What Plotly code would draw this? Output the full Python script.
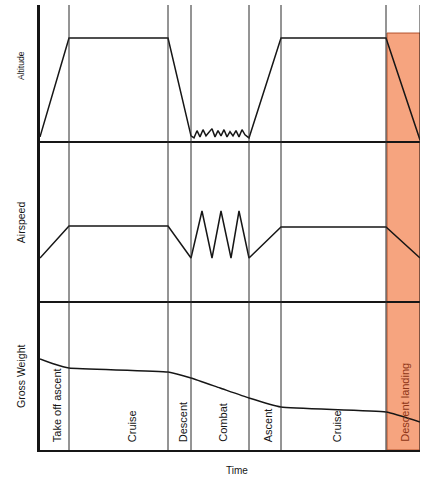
import plotly.graph_objects as go
from plotly.subplots import make_subplots

# Mission profile: time axis in arbitrary units (0 = take-off, 380 = touchdown)
phase_edges = [0, 29, 128, 151, 209, 241, 346, 380]
phase_names = ["Take off ascent", "Cruise", "Descent", "Combat", "Ascent", "Cruise", "Descent landing"]

# Altitude (relative units), including the low-level manoeuvring during combat
alt_t = [0, 29, 128, 151, 154, 157, 160, 163, 166, 169, 172, 175, 178, 181, 184,
         187, 190, 193, 196, 199, 202, 205, 209, 241, 346, 380]
alt_v = [0.04, 1.0, 1.0, 0.05, 0.03, 0.10, 0.04, 0.11, 0.05, 0.09, 0.12, 0.04, 0.10,
         0.05, 0.11, 0.04, 0.09, 0.05, 0.10, 0.04, 0.11, 0.06, 0.03, 1.0, 1.0, 0.01]

# Airspeed (relative units)
spd_t = [0, 29, 128, 151, 162, 172, 181, 191, 199, 209, 241, 346, 380]
spd_v = [0.43, 0.75, 0.75, 0.43, 0.90, 0.43, 0.90, 0.43, 0.90, 0.43, 0.74, 0.74, 0.43]

# Gross weight (relative units)
wt_t = [0, 14, 29, 128, 151, 180, 209, 241, 346, 380]
wt_v = [0.91, 0.86, 0.82, 0.78, 0.72, 0.62, 0.52, 0.43, 0.38, 0.28]

# Where each phase label sits along the time axis
label_t = [17, 92, 143, 183, 228, 297, 365]

INK = "#161616"
FONT = "Liberation Sans, Arial, sans-serif"

fig = make_subplots(rows=3, cols=1, shared_xaxes=True, vertical_spacing=0,
                    row_heights=[136, 160, 149])

line_style = dict(color=INK, width=1.5)
fig.add_trace(go.Scatter(x=alt_t, y=alt_v, mode="lines", line=line_style), row=1, col=1)
fig.add_trace(go.Scatter(x=spd_t, y=spd_v, mode="lines", line=line_style), row=2, col=1)
fig.add_trace(go.Scatter(x=wt_t, y=wt_v, mode="lines",
                         line=dict(color=INK, width=1.5, shape="spline", smoothing=0.4)), row=3, col=1)

fig.update_xaxes(range=[phase_edges[0], phase_edges[-1]], showgrid=False, zeroline=False,
                 showticklabels=False, ticks="", showline=True, linecolor=INK, linewidth=2)
fig.update_yaxes(showgrid=False, zeroline=False, showticklabels=False, ticks="",
                 showline=True, linecolor=INK, linewidth=2.5)
fig.update_yaxes(range=[0, 1.32], row=1, col=1)
fig.update_yaxes(range=[0, 1.60], row=2, col=1)
fig.update_yaxes(range=[0, 1.49], row=3, col=1)

# Highlighted final phase, kept beneath the curves
fig.add_shape(type="rect", xref="x", yref="paper", x0=phase_edges[-2] + 1, x1=phase_edges[-1],
              y0=0, y1=0.937, fillcolor="#F6A47F",
              line=dict(color="#B4522C", width=1), layer="below")

# Phase boundaries running through all three panels
for t in phase_edges[1:]:
    fig.add_shape(type="line", xref="x", yref="paper", x0=t, x1=t, y0=0, y1=1,
                  line=dict(color="#2a2a2a", width=1), layer="above")

# Phase labels, written vertically at the foot of the weight panel
for name, t in zip(phase_names, label_t):
    colour = "#8E3516" if name == "Descent landing" else INK
    fig.add_annotation(x=t, y=0.013, xref="x", yref="paper", text=name, textangle=-90,
                       showarrow=False, xanchor="center", yanchor="bottom",
                       font=dict(family=FONT, size=11, color=colour))

# Panel titles
for txt, yc, size in [("Altitude", 0.863, 8.5), ("Airspeed", 0.512, 10.5), ("Gross Weight", 0.164, 10.5)]:
    fig.add_annotation(x=-0.05, y=yc, xref="paper", yref="paper", text=txt, textangle=-90,
                       showarrow=False, xanchor="center", yanchor="middle",
                       font=dict(family=FONT, size=size, color=INK))

fig.add_annotation(x=0.518, y=-0.045, xref="paper", yref="paper", text="Time",
                   showarrow=False, xanchor="center", yanchor="middle",
                   font=dict(family=FONT, size=10, color=INK))

fig.update_layout(width=422, height=478, margin=dict(l=40, r=2, t=5, b=28),
                  showlegend=False, plot_bgcolor="white", paper_bgcolor="white")

fig.write_html("out.html")
